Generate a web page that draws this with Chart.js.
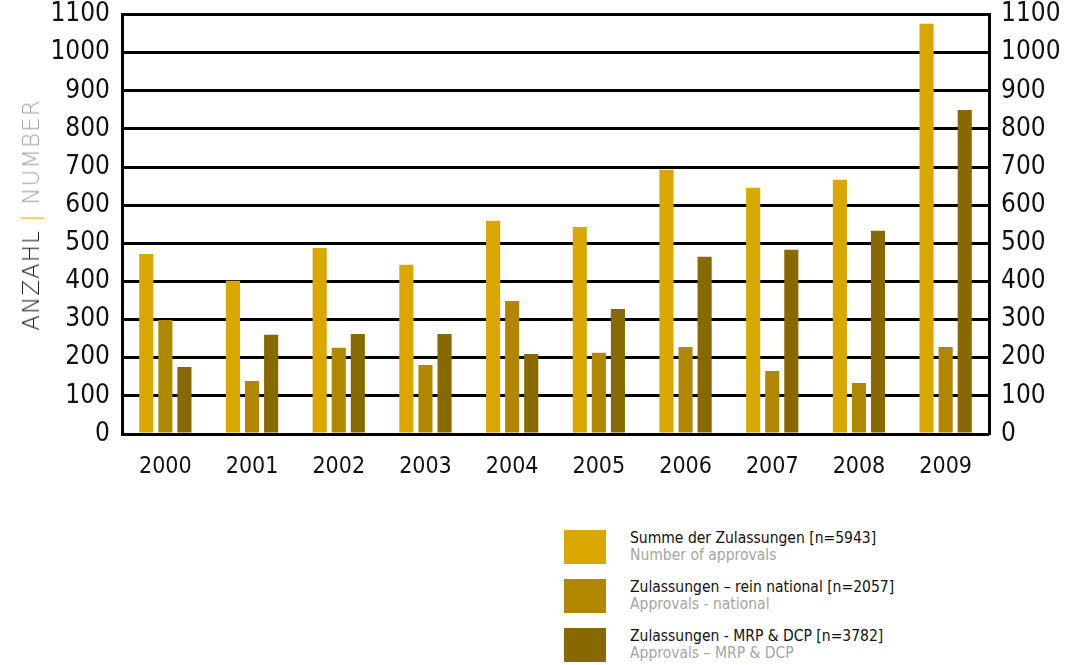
<!DOCTYPE html>
<html lang="de">
<head>
<meta charset="UTF-8">
<title>Zulassungen 2000-2009</title>
<script src="https://cdn.jsdelivr.net/npm/chart.js"></script>
<style>
    body { margin: 0; background: #fff; width: 1084px; height: 665px; overflow: hidden; position: relative; font-family: "DejaVu Sans Condensed", "DejaVu Sans", sans-serif; }
    #wrap { position: absolute; left: 0; top: -13px; width: 1084px; height: 493px; }
    #ytitle { position: absolute; left: 31px; top: 215px; transform: translate(-50%, -50%) rotate(-90deg); white-space: nowrap;
              font-family: "DejaVu Sans", sans-serif; font-weight: 200; font-size: 23px; letter-spacing: 1px; color: #222; }
    #ytitle .sep { color: #e0a800; }
    #ytitle .en { color: #a5a5a5; }
    #legend { position: absolute; left: 564px; top: 530px; }
    .item { position: relative; height: 49px; }
    .box { position: absolute; left: 0; top: 0; width: 42px; height: 34px; }
    .txt { position: absolute; left: 66px; top: 0; font-size: 15.5px; line-height: 17px; color: #111; white-space: nowrap; }
    .txt .en { color: #a5a5a5; }
</style>
</head>
<body>
<div id="wrap"><canvas id="chart"></canvas></div>
<div id="ytitle">ANZAHL <span class="sep">|</span> <span class="en">NUMBER</span></div>
<div id="legend"></div>

<script>
    const years = ["2000", "2001", "2002", "2003", "2004", "2005", "2006", "2007", "2008", "2009"];
    const summe = [472, 402, 488, 444, 559, 543, 693, 646, 667, 1076];
    const national = [299, 139, 226, 181, 349, 213, 228, 165, 134, 228];
    const mrpDcp = [176, 260, 262, 262, 210, 328, 465, 483, 533, 850];

    const seriesNames = ["Summe der Zulassungen [n=5943]", "Zulassungen \u2013 rein national [n=2057]", "Zulassungen - MRP & DCP [n=3782]"];
    const seriesNamesEn = ["Number of approvals", "Approvals - national", "Approvals \u2013 MRP & DCP"];
    const colors = ["#d9a700", "#b08800", "#886800"];

    const tickFont = { family: "DejaVu Sans Condensed", size: 26 };
    const plainTick = (v) => String(v);

    const datasets = [summe, national, mrpDcp].map((vals, i) => ({
        label: seriesNames[i],
        data: vals,
        backgroundColor: colors[i],
        borderWidth: 0,
        categoryPercentage: 0.66,
        barPercentage: 0.74,
        yAxisID: "y"
    }));

    new Chart(document.getElementById("chart"), {
        type: "bar",
        data: { labels: years, datasets: datasets },
        options: {
            responsive: true,
            maintainAspectRatio: false,
            animation: false,
            layout: { padding: { top: 3, left: 0, right: 0, bottom: 0 } },
            plugins: { legend: { display: false }, tooltip: { enabled: false } },
            scales: {
                x: {
                    grid: { display: false },
                    border: { display: false },
                    ticks: { color: "#111", font: { family: "DejaVu Sans Condensed", size: 23 }, padding: 11 },
                    afterFit: (s) => { s.height = 46; }
                },
                y: {
                    position: "left",
                    min: 0, max: 1100,
                    ticks: { stepSize: 100, color: "#111", font: tickFont, padding: 12, callback: plainTick },
                    grid: { color: "#000", lineWidth: 3, drawTicks: false },
                    border: { color: "#000", width: 3 },
                    afterFit: (s) => { s.width = 122; }
                },
                y2: {
                    position: "right",
                    min: 0, max: 1100,
                    ticks: { stepSize: 100, color: "#111", font: tickFont, padding: 12, callback: plainTick },
                    grid: { display: false, drawTicks: false },
                    border: { color: "#000", width: 3 },
                    afterFit: (s) => { s.width = 95; }
                }
            }
        }
    });

    const legend = document.getElementById("legend");
    seriesNames.forEach((name, i) => {
        const item = document.createElement("div");
        item.className = "item";
        item.innerHTML = '<div class="box" style="background:' + colors[i] + '"></div>' +
            '<div class="txt"><div></div><div class="en"></div></div>';
        item.querySelector(".txt div").textContent = name;
        item.querySelector(".txt .en").textContent = seriesNamesEn[i];
        legend.appendChild(item);
    });
</script>
</body>
</html>
